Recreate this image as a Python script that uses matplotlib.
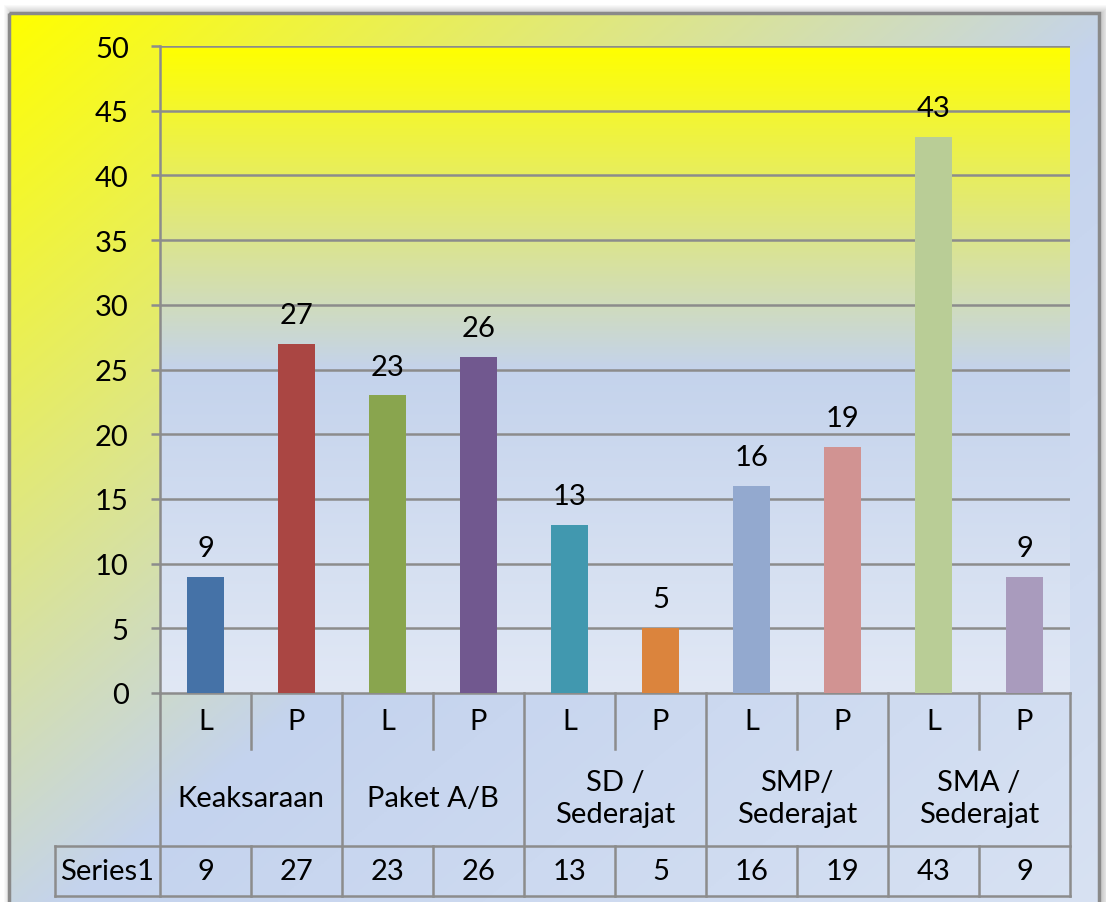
import numpy as np
import matplotlib.pyplot as plt
from matplotlib.colors import LinearSegmentedColormap
from matplotlib.patches import Rectangle

# data
groups = ["Keaksaraan", "Paket A/B", "SD /\nSederajat", "SMP/\nSederajat", "SMA /\nSederajat"]
genders = ["L", "P"]
values = [9, 27, 23, 26, 13, 5, 16, 19, 43, 9]
series_name = "Series1"
bar_colors = ["#4572A7", "#AA4643", "#89A54E", "#71588F", "#4198AF",
              "#DB843D", "#93A9CF", "#D19392", "#B9CD96", "#A99BBD"]

W, H = 1106, 903
FONT = "Lato"
FS = 21
GRID = "#8C8C8C"

plt.rcParams["font.family"] = FONT


def px_rect(x0, y0, x1, y1):
    """figure-fraction rect from pixel box (origin top-left)"""
    return [x0 / W, 1 - y1 / H, (x1 - x0) / W, (y1 - y0) / H]


fig = plt.figure(figsize=(W / 100, H / 100), dpi=100, facecolor="white")

# chart frame with diagonal yellow -> blue fill
bg = fig.add_axes([0, 0, 1, 1])
bg.set_xlim(0, W)
bg.set_ylim(H, 0)
bg.axis("off")

bx0, by0, bx1, by1 = 9, 14, 1099, 915
for i in range(8):
    d = 8 - i
    bg.add_patch(Rectangle((bx0 - d + 3, by0 - d), (bx1 - bx0) + 2 * d, (by1 - by0) + 2 * d,
                           facecolor="black", edgecolor="none", alpha=0.025, zorder=0))

frame_cmap = LinearSegmentedColormap.from_list(
    "frame", [(0.0, "#FFFF00"), (0.52, "#C4D3EE"), (1.0, "#D8E2F3")])
u = np.linspace(0, 1, 400)[None, :]
v = np.linspace(0, 1, 400)[:, None]
t = np.clip((u + v) / 2.0, 0, 1)
bg.imshow(t, cmap=frame_cmap, vmin=0, vmax=1, extent=(bx0, bx1, by1, by0),
          aspect="auto", zorder=1, interpolation="bilinear")
bg.add_patch(Rectangle((bx0, by0), bx1 - bx0, by1 - by0, facecolor="none",
                       edgecolor="#8A8A8A", lw=2.5, zorder=2))

# plot area
ax = fig.add_axes(px_rect(160, 47, 1070, 694))
n = len(values)
x = np.arange(n)
ax.set_xlim(-0.5, n - 0.5)
ax.set_ylim(0, 50)

plot_cmap = LinearSegmentedColormap.from_list(
    "plot", [(0.0, "#E1E8F5"), (0.5, "#C4D3EC"), (1.0, "#FFFF00")])
grad = np.linspace(0, 1, 256)[:, None]
ax.imshow(grad, cmap=plot_cmap, origin="lower", extent=(-0.5, n - 0.5, 0, 50),
          aspect="auto", zorder=0)

yticks = np.arange(0, 51, 5)
ax.set_yticks(yticks)
for yv in yticks[1:]:
    ax.axhline(yv, color=GRID, lw=1.8, zorder=1)

ax.bar(x, values, width=0.4, color=bar_colors, zorder=3)
for xi, val in zip(x, values):
    ax.annotate(str(val), (xi, val), xytext=(0, 15), textcoords="offset points",
                ha="center", va="baseline", fontsize=FS, color="black", zorder=4)

ax.set_xticks([])
ax.tick_params(axis="y", length=6.5, width=1.8, color=GRID, pad=16, labelsize=FS)
for side in ("top", "right"):
    ax.spines[side].set_visible(False)
for side in ("left", "bottom"):
    ax.spines[side].set_color(GRID)
    ax.spines[side].set_linewidth(1.8)

# category axis and data table below the plot
tab = fig.add_axes(px_rect(160, 694, 1070, 897))
tab.set_xlim(-0.5, n - 0.5)
tab.set_ylim(203, 0)
tab.axis("off")

lw = 1.8
x_left = -0.5 - 105 / 91
row_lp, row_grp, row_end = 56, 153, 203

for k in range(len(groups) + 1):
    tab.plot([-0.5 + 2 * k] * 2, [0, row_end], color=GRID, lw=lw, clip_on=False)
for k in range(len(groups)):
    xs = 0.5 + 2 * k
    tab.plot([xs, xs], [0, row_lp], color=GRID, lw=lw, clip_on=False)
    tab.plot([xs, xs], [row_grp, row_end], color=GRID, lw=lw, clip_on=False)
for yy in (row_grp, row_end):
    tab.plot([x_left, n - 0.5], [yy, yy], color=GRID, lw=lw, clip_on=False)
tab.plot([x_left, x_left], [row_grp, row_end], color=GRID, lw=lw, clip_on=False)

for i in range(n):
    tab.text(i, 28, genders[i % 2], ha="center", va="center", fontsize=FS)
    tab.text(i, 178, str(values[i]), ha="center", va="center", fontsize=FS)
for k, g in enumerate(groups):
    tab.text(0.5 + 2 * k, 105, g, ha="center", va="center", fontsize=FS,
             linespacing=1.3, multialignment="center")
tab.text((x_left - 0.5) / 2, 178, series_name, ha="center", va="center",
         fontsize=FS, clip_on=False)

fig.savefig("out.png", dpi=100)
